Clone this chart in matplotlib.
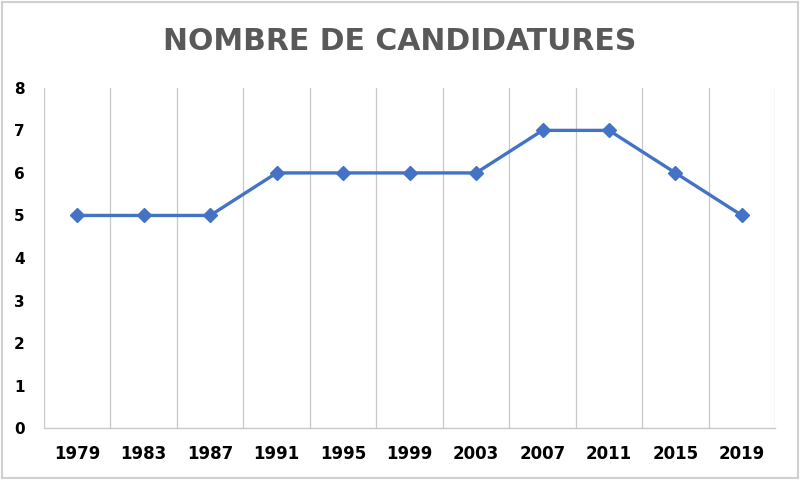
import numpy as np
import matplotlib
matplotlib.use("Agg")
import matplotlib.pyplot as plt
from matplotlib.patches import Rectangle

years = ["1979", "1983", "1987", "1991", "1995", "1999", "2003", "2007", "2011", "2015", "2019"]
candidatures = [5, 5, 5, 6, 6, 6, 6, 7, 7, 6, 5]

fig = plt.figure(figsize=(8, 4.8), dpi=100)
ax = fig.add_axes([0.055, 0.108, 0.914, 0.709])

x = np.arange(len(years))
ax.plot(x, candidatures, color="#4472C4", lw=2.4, marker="D", ms=7.5, zorder=3)

ax.set_xlim(-0.5, len(years) - 0.5)
ax.set_ylim(0, 8)
ax.set_yticks(range(0, 9))
ax.set_xticks(x)
ax.set_xticklabels(years)

# vertical gridlines between categories, like Excel
for b in np.arange(-0.5, len(years), 1.0):
    ax.axvline(b, color="#c8c8c8", lw=0.9, zorder=1)

for s in ["top", "right", "left"]:
    ax.spines[s].set_visible(False)
ax.spines["bottom"].set_color("#c8c8c8")
ax.spines["bottom"].set_linewidth(1.0)
ax.tick_params(axis="both", length=0)
ax.tick_params(axis="y", pad=14)
ax.tick_params(axis="x", pad=12)
for lab in ax.get_yticklabels():
    lab.set_fontsize(11)
    lab.set_fontweight("bold")
for lab in ax.get_xticklabels():
    lab.set_fontsize(12)
    lab.set_fontweight("bold")

fig.text(0.5, 1 - 41 / 480, "NOMBRE DE CANDIDATURES", ha="center", va="center",
         fontsize=21.5, fontweight="bold", color="#595959")

fig.patches.append(Rectangle((0.002, 0.004), 0.996, 0.992, transform=fig.transFigure,
                             fill=False, edgecolor="#d0d0d0", lw=1.5))

fig.savefig("out.png", dpi=100)
